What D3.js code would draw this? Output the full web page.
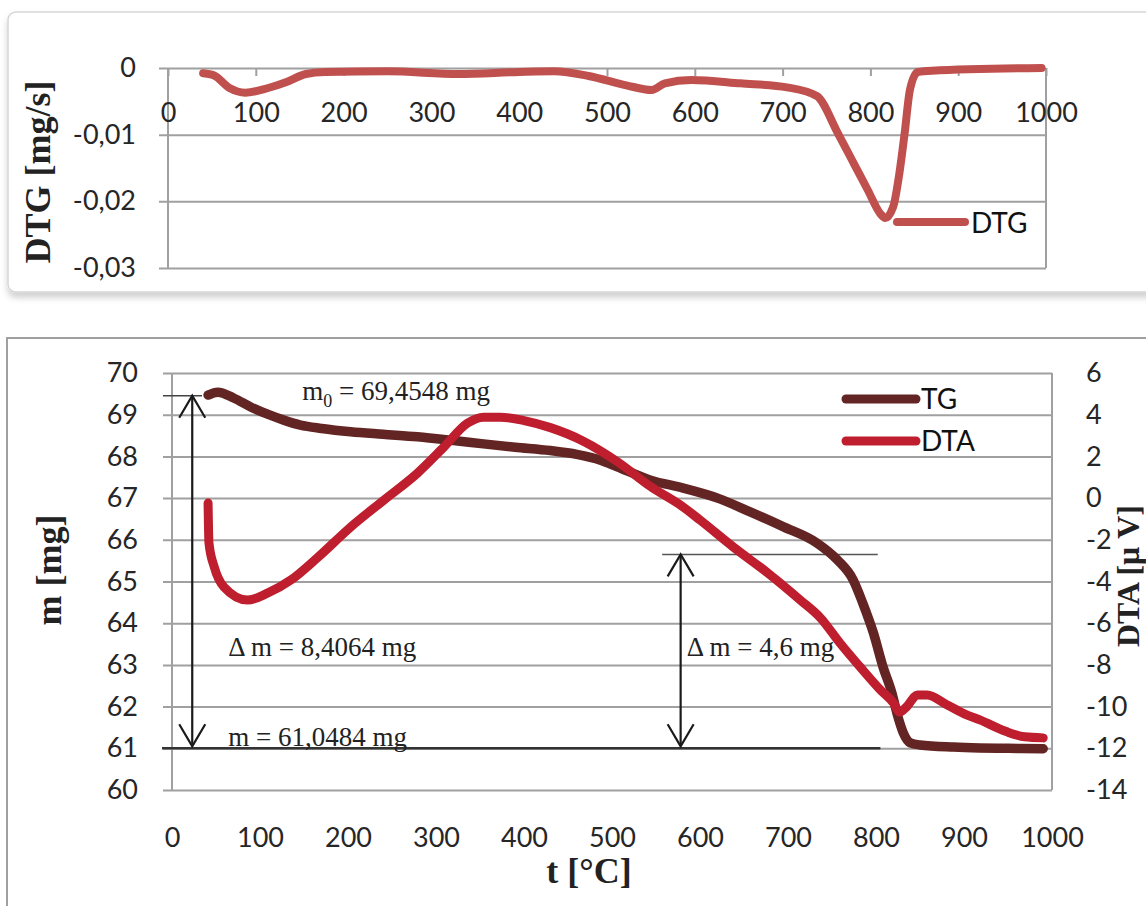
<!DOCTYPE html>
<meta charset="utf-8">
<title>TG / DTA / DTG</title>
<style>
    body { margin: 0; background: #fff; }
    .axis path { display: none; }
    .axis text { font-family: Lato, "Open Sans", sans-serif; font-size: 27px; fill: #262626; }
    .grid line, .tickmarks line { stroke: #a0a0a0; stroke-width: 2px; }
    .grid path, .tickmarks path { display: none; }
    .frame { stroke: #a0a0a0; stroke-width: 2px; }
    .title { font-family: "Liberation Serif", serif; font-weight: bold; font-size: 36px; fill: #222; }
    .note { font-family: "Liberation Serif", serif; font-size: 27px; fill: #222; }
    .legend { font-family: Lato, "Open Sans", sans-serif; font-size: 28px; fill: #111; }
</style>
<body>
<div id="chart"></div>
<script src="https://d3js.org/d3.v7.min.js"></script>
<script>

// tick values
var tTicks = [0, 100, 200, 300, 400, 500, 600, 700, 800, 900, 1000];
var dtgTicks = [0, -0.01, -0.02, -0.03];
var massTicks = [60, 61, 62, 63, 64, 65, 66, 67, 68, 69, 70];
var dtaTicks = [-14, -12, -10, -8, -6, -4, -2, 0, 2, 4, 6];

// DTG [mg/s] vs t [°C]
var dtgT = [40, 52, 70, 88, 114, 135, 157, 179, 250, 331, 400, 440, 479, 522, 551, 566, 596, 652, 705, 739,
            763, 781, 797, 811, 817, 826, 833, 839, 845, 854, 870, 995];
var dtgV = [-0.0008, -0.0011, -0.003, -0.0037, -0.003, -0.0021, -0.0009, -0.0006, -0.0005, -0.0009, -0.0006,
            -0.0005, -0.0012, -0.0026, -0.0033, -0.0023, -0.0018, -0.0023, -0.0029, -0.0042,
            -0.0098, -0.0143, -0.0183, -0.0218, -0.0225, -0.0208, -0.0158, -0.0098, -0.0033, -0.0006, -0.0004, 0];

// TG mass [mg] vs t [°C]
var tgT = [41, 52, 70, 90, 110, 127, 146, 170, 203, 240, 279, 320, 354, 390, 430, 460, 487, 506, 544, 581,
           620, 657, 695, 733, 756, 774, 785, 797, 808, 818, 825, 831, 839, 850, 888, 918, 950, 990];
var tgM = [69.47, 69.54, 69.40, 69.18, 69.0, 68.87, 68.75, 68.67, 68.59, 68.53, 68.47, 68.38, 68.30, 68.22,
           68.14, 68.05, 67.91, 67.75, 67.43, 67.24, 67.0, 66.67, 66.31, 65.92, 65.52, 65.04, 64.48, 63.77,
           62.95, 62.33, 61.75, 61.37, 61.13, 61.08, 61.03, 61.01, 61.0, 60.99];

// DTA [μV] vs t [°C]
var dtaT = [41, 42, 48, 59, 86, 109, 135, 166, 203, 241, 279, 309, 336, 354, 373, 400, 430, 468, 506, 544,
            581, 600, 638, 677, 714, 737, 759, 782, 805, 820, 827, 835, 847, 858, 881, 903, 918, 948, 969, 990];
var dtaV = [-0.24, -2.15, -3.3, -4.26, -4.89, -4.55, -3.93, -2.83, -1.39, -0.09, 1.2, 2.45, 3.6, 3.88, 3.88,
            3.72, 3.38, 2.72, 1.75, 0.55, -0.43, -1.05, -2.35, -3.59, -4.89, -5.75, -6.95, -8.1, -9.2, -9.83,
            -10.26, -10.0, -9.44, -9.44, -9.92, -10.4, -10.64, -11.2, -11.45, -11.5];

function zip(a, b) { return a.map(function (d, i) { return [d, b[i]]; }); }
function comma(d) { return d === 0 ? "0" : d.toFixed(2).replace(".", ","); }
function plain(d) { return d < 0 ? "-" + Math.abs(d) : String(d); }

var svg = d3.select("#chart").append("svg")
    .attr("width", 1146)
    .attr("height", 906);

var defs = svg.append("defs");
var f = defs.append("filter").attr("id", "shadow").attr("x", "-5%").attr("y", "-5%").attr("width", "110%").attr("height", "120%");
f.append("feDropShadow").attr("dx", 0).attr("dy", 5).attr("stdDeviation", 3).attr("flood-color", "#000").attr("flood-opacity", 0.18);

// ---------- top panel : DTG ----------
svg.append("rect")
    .attr("x", 8).attr("y", 12).attr("width", 1170).attr("height", 280).attr("rx", 8)
    .attr("fill", "#fff").attr("stroke", "#d6d6d6").attr("stroke-width", 1.5)
    .attr("filter", "url(#shadow)");

var xTop = d3.scaleLinear().domain([0, 1000]).range([168, 1046]);
var yDtg = d3.scaleLinear().domain([-0.03, 0]).range([268, 68]);

svg.append("g").attr("class", "grid")
    .attr("transform", "translate(159,0)")
    .call(d3.axisLeft(yDtg).tickValues(dtgTicks).tickSize(-(1046 - 159)).tickFormat(""));

svg.append("line").attr("class", "frame")
    .attr("x1", xTop(0)).attr("x2", xTop(0)).attr("y1", yDtg(0)).attr("y2", yDtg(-0.03));
svg.append("line").attr("class", "frame")
    .attr("x1", xTop(1000)).attr("x2", xTop(1000)).attr("y1", yDtg(0)).attr("y2", yDtg(-0.03));

svg.append("g").attr("class", "tickmarks")
    .attr("transform", "translate(0," + yDtg(0) + ")")
    .call(d3.axisBottom(xTop).tickValues(tTicks).tickSize(8).tickFormat(""));

svg.append("g").attr("class", "axis")
    .attr("transform", "translate(0," + yDtg(0) + ")")
    .call(d3.axisBottom(xTop).tickValues(tTicks).tickSize(0).tickPadding(35).tickFormat(d3.format("d")));

svg.append("g").attr("class", "axis")
    .attr("transform", "translate(" + xTop(0) + ",0)")
    .call(d3.axisLeft(yDtg).tickValues(dtgTicks).tickSize(0).tickPadding(32).tickFormat(comma));

svg.append("path")
    .datum(zip(dtgT, dtgV))
    .attr("fill", "none")
    .attr("stroke", "#c0504d")
    .attr("stroke-width", 8)
    .attr("stroke-linecap", "round")
    .attr("stroke-linejoin", "round")
    .attr("d", d3.line()
        .x(function (d) { return xTop(d[0]); })
        .y(function (d) { return yDtg(d[1]); })
        .curve(d3.curveMonotoneX));

svg.append("text").attr("class", "title")
    .attr("text-anchor", "middle")
    .attr("transform", "translate(50,172) rotate(-90)")
    .text("DTG [mg/s]");

// legend
svg.append("line").attr("x1", 897).attr("x2", 965).attr("y1", 222).attr("y2", 222)
    .attr("stroke", "#c0504d").attr("stroke-width", 8).attr("stroke-linecap", "round");
svg.append("text").attr("class", "legend").attr("x", 971).attr("y", 233).text("DTG");

// ---------- bottom panel : TG + DTA ----------
svg.append("rect")
    .attr("x", 7).attr("y", 338).attr("width", 1170).attr("height", 620)
    .attr("fill", "none").attr("stroke", "#a0a0a0").attr("stroke-width", 2);

var xBot = d3.scaleLinear().domain([0, 1000]).range([172, 1052]);
var yM = d3.scaleLinear().domain([60, 70]).range([790, 373]);
var yDta = d3.scaleLinear().domain([-14, 6]).range([790, 373]);

svg.append("g").attr("class", "grid")
    .attr("transform", "translate(163,0)")
    .call(d3.axisLeft(yM).tickValues(massTicks).tickSize(-(1052 - 163)).tickFormat(""));

svg.append("line").attr("class", "frame")
    .attr("x1", xBot(0)).attr("x2", xBot(0)).attr("y1", yM(70)).attr("y2", yM(60));
svg.append("line").attr("class", "frame")
    .attr("x1", xBot(1000)).attr("x2", xBot(1000)).attr("y1", yM(70)).attr("y2", yM(60));

svg.append("g").attr("class", "axis")
    .attr("transform", "translate(" + xBot(0) + ",0)")
    .call(d3.axisLeft(yM).tickValues(massTicks).tickSize(0).tickPadding(34).tickFormat(d3.format("d")));

svg.append("g").attr("class", "axis")
    .attr("transform", "translate(" + xBot(1000) + ",0)")
    .call(d3.axisRight(yDta).tickValues(dtaTicks).tickSize(0).tickPadding(34).tickFormat(plain));

svg.append("g").attr("class", "axis")
    .attr("transform", "translate(0," + yM(60) + ")")
    .call(d3.axisBottom(xBot).tickValues(tTicks).tickSize(0).tickPadding(38).tickFormat(d3.format("d")));

// annotation lines
var ann = svg.append("g").attr("stroke", "#1a1a1a").attr("fill", "none");
ann.append("line").attr("x1", 163).attr("x2", 202).attr("y1", yM(69.4548)).attr("y2", yM(69.4548))
    .attr("stroke-width", 1.5).attr("stroke", "#444");
ann.append("line").attr("x1", 162).attr("x2", xBot(805)).attr("y1", yM(61)).attr("y2", yM(61))
    .attr("stroke-width", 2.5).attr("stroke", "#333");
ann.append("line").attr("x1", xBot(557)).attr("x2", xBot(802)).attr("y1", yM(65.65)).attr("y2", yM(65.65))
    .attr("stroke-width", 1.5).attr("stroke", "#555");

function arrow(t, top, bottom) {
    var x = xBot(t), y0 = yM(top), y1 = yM(bottom);
    ann.append("line").attr("x1", x).attr("x2", x).attr("y1", y0).attr("y2", y1).attr("stroke-width", 2.2);
    ann.append("polyline").attr("stroke-width", 2.2)
        .attr("points", [[x - 13, y0 + 22], [x, y0], [x + 13, y0 + 22]].join(" "));
    ann.append("polyline").attr("stroke-width", 2.2)
        .attr("points", [[x - 13, y1 - 22], [x, y1], [x + 13, y1 - 22]].join(" "));
}
arrow(23, 69.4548, 61.0484);
arrow(578, 65.65, 61.0484);

var tgLine = d3.line()
    .x(function (d) { return xBot(d[0]); })
    .y(function (d) { return yM(d[1]); })
    .curve(d3.curveMonotoneX);
var dtaLine = d3.line()
    .x(function (d) { return xBot(d[0]); })
    .y(function (d) { return yDta(d[1]); })
    .curve(d3.curveMonotoneX);

svg.append("path")
    .datum(zip(tgT, tgM))
    .attr("fill", "none").attr("stroke", "#632523").attr("stroke-width", 9.5)
    .attr("stroke-linecap", "round").attr("stroke-linejoin", "round")
    .attr("d", tgLine);

svg.append("path")
    .datum(zip(dtaT, dtaV))
    .attr("fill", "none").attr("stroke", "#be1e2d").attr("stroke-width", 9)
    .attr("stroke-linecap", "round").attr("stroke-linejoin", "round")
    .attr("d", dtaLine);

// notes
var m0 = svg.append("text").attr("class", "note").attr("x", xBot(148)).attr("y", yM(69.35));
m0.append("tspan").text("m");
m0.append("tspan").attr("dy", 7).attr("font-size", 18).text("0");
m0.append("tspan").attr("dy", -7).text(" = 69,4548 mg");

svg.append("text").attr("class", "note").attr("x", xBot(64)).attr("y", yM(63.22)).text("Δ m = 8,4064 mg");
svg.append("text").attr("class", "note").attr("x", xBot(64)).attr("y", yM(61.05)).text("m = 61,0484 mg");
svg.append("text").attr("class", "note").attr("x", xBot(585)).attr("y", yM(63.22)).text("Δ m = 4,6 mg");

// legend
svg.append("line").attr("x1", 846).attr("x2", 916).attr("y1", 399).attr("y2", 399)
    .attr("stroke", "#632523").attr("stroke-width", 9).attr("stroke-linecap", "round");
svg.append("text").attr("class", "legend").attr("x", 921).attr("y", 409).text("TG");
svg.append("line").attr("x1", 846).attr("x2", 916).attr("y1", 441).attr("y2", 441)
    .attr("stroke", "#be1e2d").attr("stroke-width", 9).attr("stroke-linecap", "round");
svg.append("text").attr("class", "legend").attr("x", 921).attr("y", 451).text("DTA");

// axis titles
svg.append("text").attr("class", "title")
    .attr("text-anchor", "middle")
    .attr("transform", "translate(61,570) rotate(-90)")
    .text("m [mg]");
svg.append("text").attr("class", "title")
    .attr("text-anchor", "middle")
    .style("font-size", "32px")
    .attr("transform", "translate(1139,576) rotate(-90)")
    .text("DTA [μ V]");
svg.append("text").attr("class", "title")
    .attr("text-anchor", "middle")
    .attr("x", 589).attr("y", 883)
    .text("t [°C]");

</script>
</body>
